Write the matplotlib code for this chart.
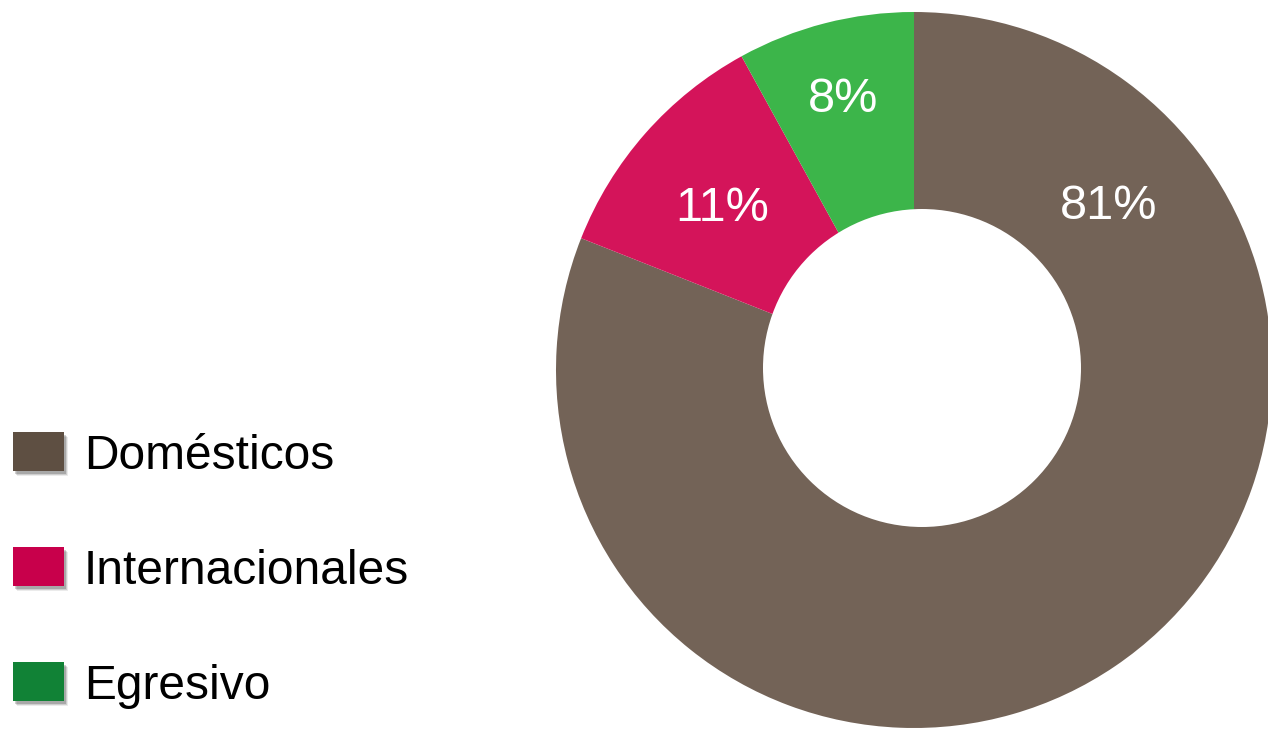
import matplotlib
matplotlib.use("Agg")
import matplotlib.pyplot as plt
from matplotlib.patches import Rectangle, Circle
import numpy as np

categories = ["Domésticos", "Internacionales", "Egresivo"]
values = [81, 11, 8]
labels = ["81%", "11%", "8%"]
pie_colors = ["#736357", "#D4145A", "#3CB54A"]
legend_colors = ["#5E4F42", "#C8004B", "#118236"]

plt.rcParams['font.family'] = ['Liberation Sans', 'DejaVu Sans']

W, H = 1268, 730
fig = plt.figure(figsize=(W / 100, H / 100), dpi=100)

cx, cy, R = 914, 370, 358
ax = fig.add_axes([(cx - R) / W, (H - cy - R) / H, 2 * R / W, 2 * R / H])
wedges, _ = ax.pie(values, colors=pie_colors, startangle=90, counterclock=False,
                   radius=1.0, wedgeprops=dict(linewidth=0))
# donut hole (slightly offset, as in the reference)
ax.add_patch(Circle((8 / R, 2 / R), 159 / R, facecolor="white", edgecolor="none", zorder=5))
ax.set_xlim(-1, 1)
ax.set_ylim(-1, 1)
ax.set_aspect('equal')
ax.axis('off')

# label positions: angle (deg from +x) and radius fraction
label_angles = [40.0, 139.8, 104.7]
label_r = [0.71, 0.70, 0.78]
for lab, a, r in zip(labels, label_angles, label_r):
    t = np.deg2rad(a)
    ax.text(r * np.cos(t), r * np.sin(t), lab, color="white", fontsize=35,
            ha="center", va="center", zorder=6)

# legend
sw_w, sw_h = 51, 39
x0 = 13
tops = [432, 547, 662]
for cat, col, top in zip(categories, legend_colors, tops):
    for dx, dy, al in [(4, 5, 0.08), (3, 4, 0.12), (2, 3, 0.18)]:
        fig.patches.append(Rectangle(((x0 + dx) / W, (H - top - sw_h - dy) / H), sw_w / W, sw_h / H,
                                     transform=fig.transFigure, facecolor="black", alpha=al,
                                     edgecolor="none", zorder=1))
    fig.patches.append(Rectangle((x0 / W, (H - top - sw_h) / H), sw_w / W, sw_h / H,
                                 transform=fig.transFigure, facecolor=col, edgecolor="none", zorder=2))
    fig.text(84 / W, (H - top - sw_h / 2) / H, cat, fontsize=34.5, color="black",
             ha="left", va="center_baseline")

fig.savefig("out.png", dpi=100)
